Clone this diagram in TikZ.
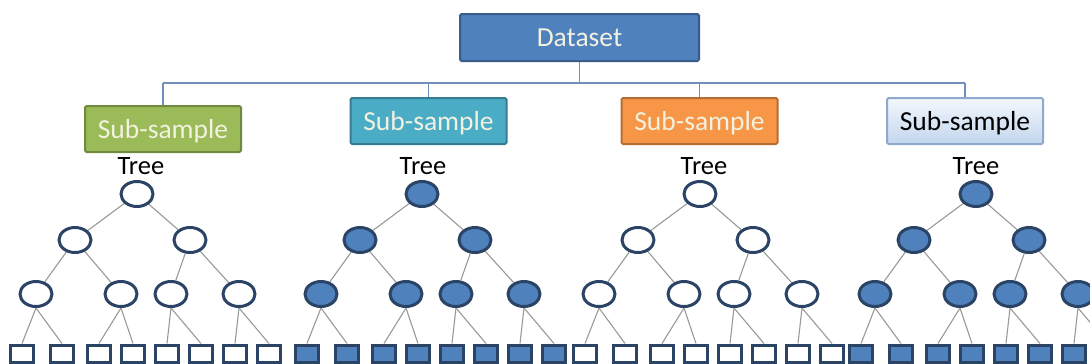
\documentclass[tikz,border=0pt]{standalone}
\usepackage{fontspec}
\setmainfont{Carlito}
\usetikzlibrary{shapes.geometric,backgrounds}
\definecolor{bluefill}{HTML}{4F81BD}
\definecolor{bluedark}{HTML}{385D8A}
\definecolor{navy}{HTML}{2B4466}
\definecolor{greenfill}{HTML}{9BBB59}
\definecolor{greendark}{HTML}{71893F}
\definecolor{tealfill}{HTML}{4BACC6}
\definecolor{tealdark}{HTML}{357D91}
\definecolor{orangefill}{HTML}{F79646}
\definecolor{orangedark}{HTML}{B66D31}
\definecolor{lighttop}{HTML}{F3F7FC}
\definecolor{lightbot}{HTML}{C3D6EE}
\definecolor{lightdark}{HTML}{8EA9CC}
\definecolor{boxtext}{HTML}{F3F1DF}
\definecolor{busline}{HTML}{7090BA}
\definecolor{edgegray}{HTML}{999999}
\begin{document}
\begin{tikzpicture}[x=1pt,y=-1pt,
  topbox/.style={draw, line width=2pt, rounded corners=1.5pt, inner sep=0pt,
    text height=18pt, text depth=0pt, font=\fontsize{27.5}{30}\selectfont},
  subbox/.style={topbox, minimum width=156pt, minimum height=46pt},
  treelabel/.style={anchor=base, inner sep=0pt, font=\fontsize{26.5}{30}\selectfont, text=black},
  tnode/.style={ellipse, draw=navy, line width=3pt, minimum width=32pt, minimum height=25pt, inner sep=0pt},
  leaf/.style={rectangle, draw=navy, line width=3pt, minimum width=23pt, minimum height=17pt, inner sep=0pt},
  bus/.style={draw=busline, line width=1.3pt},
  tedge/.style={draw=edgegray, line width=1.1pt}
]
\useasboundingbox (0,0) rectangle (1090,364);

% top part
\node[topbox, fill=bluefill, draw=bluedark, text=boxtext, minimum width=239pt, minimum height=47pt] (ds) at (579.5,37.5) {Dataset};
\node[subbox, fill=greenfill, draw=greendark, text=boxtext] (s1) at (163,129) {Sub-sample};
\node[subbox, fill=tealfill, draw=tealdark, text=boxtext] (s2) at (428.5,121) {Sub-sample};
\node[subbox, fill=orangefill, draw=orangedark, text=boxtext] (s3) at (699.5,121) {Sub-sample};
\node[subbox, top color=lighttop, bottom color=lightbot, draw=lightdark, text=black] (s4) at (965,121) {Sub-sample};
\coordinate (j0) at (579.5,83);

\node[treelabel] (t1) at (141,174.5) {Tree};
\node[treelabel] (t2) at (423,174.5) {Tree};
\node[treelabel] (t3) at (704,174.5) {Tree};
\node[treelabel] (t4) at (976,174.5) {Tree};

% trees
\foreach \k/\r/\fc in {1/137/white, 2/422/bluefill, 3/700/white, 4/976/bluefill} {
  \node[tnode, fill=\fc] (R\k) at (\r,194) {};
  \node[tnode, fill=\fc] (A\k) at (\r-62,240) {};
  \node[tnode, fill=\fc] (B\k) at (\r+53,240) {};
  \node[tnode, fill=\fc] (C\k) at (\r-101,294) {};
  \node[tnode, fill=\fc] (D\k) at (\r-16,294) {};
  \node[tnode, fill=\fc] (E\k) at (\r+34,294) {};
  \node[tnode, fill=\fc] (F\k) at (\r+102,294) {};
  \foreach \j/\dx in {1/-115,2/-75,3/-38,4/-4,5/30,6/64,7/98,8/132} {
    \node[leaf, fill=\fc] (L\k-\j) at (\r+\dx,353.5) {};
  }
}

\begin{scope}[on background layer]
  \fill[white] (0,0) rectangle (1090,364);
  \draw[bus] (ds.south) -- (j0);
  \draw[bus] (s1.north |- j0) -- (s4.north |- j0);
  \draw[bus] (s1.north |- j0) -- (s1.north);
  \draw[bus] (s2.north |- j0) -- (s2.north);
  \draw[bus] (s3.north |- j0) -- (s3.north);
  \draw[bus] (s4.north |- j0) -- (s4.north);
  \foreach \k in {1,2,3,4} {
    \draw[tedge] (R\k) -- (A\k);
    \draw[tedge] (R\k) -- (B\k);
    \draw[tedge] (A\k) -- (C\k);
    \draw[tedge] (A\k) -- (D\k);
    \draw[tedge] (B\k) -- (E\k);
    \draw[tedge] (B\k) -- (F\k);
    \draw[tedge] (C\k.south) -- (L\k-1.north);
    \draw[tedge] (C\k.south) -- (L\k-2.north);
    \draw[tedge] (D\k.south) -- (L\k-3.north);
    \draw[tedge] (D\k.south) -- (L\k-4.north);
    \draw[tedge] (E\k.south) -- (L\k-5.north);
    \draw[tedge] (E\k.south) -- (L\k-6.north);
    \draw[tedge] (F\k.south) -- (L\k-7.north);
    \draw[tedge] (F\k.south) -- (L\k-8.north);
  }
\end{scope}
\end{tikzpicture}
\end{document}
